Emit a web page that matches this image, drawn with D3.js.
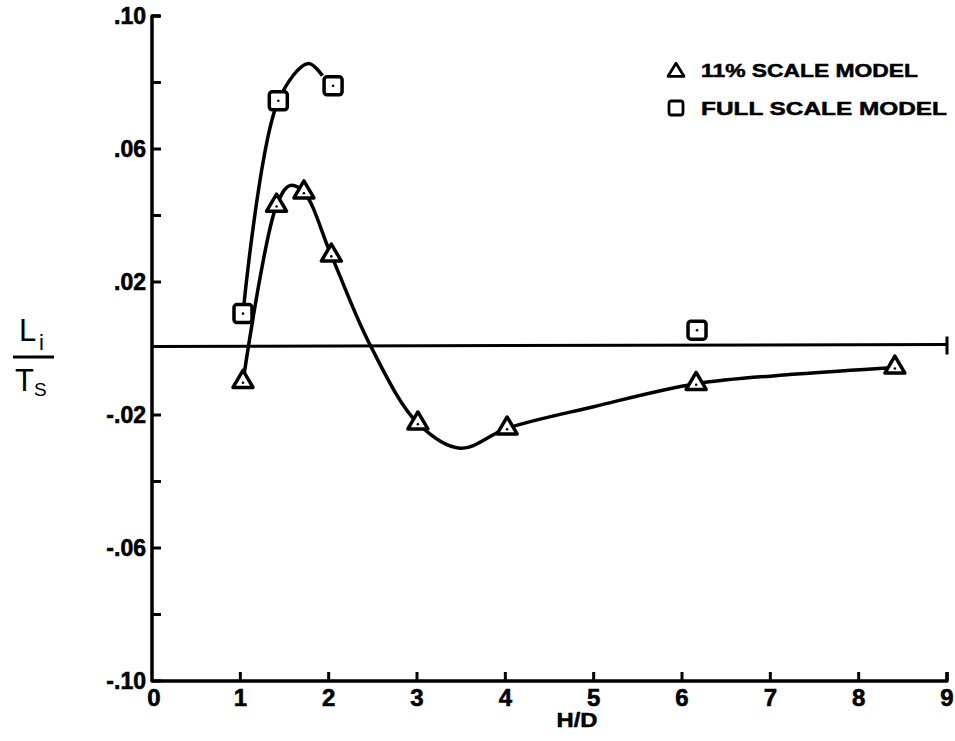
<!DOCTYPE html>
<html><head><meta charset="utf-8">
<script src="https://cdn.jsdelivr.net/npm/d3@7"></script>
<style>body{margin:0;background:#fff}</style>
</head><body>
<div id="chart"></div>
<script>
// ---- data ----
const xTicks = [0,1,2,3,4,5,6,7,8,9];
const yTicksMajor = [0.10, 0.06, 0.02, -0.02, -0.06, -0.10];
const yTicksMinor = [0.08, 0.04, -0.04, -0.08];
const yTickLabels = [".10", ".06", ".02", "-.02", "-.06", "-.10"];

// 11% scale model (triangles)
const triX = [1.03, 1.41, 1.72, 2.03, 3.01, 4.02, 6.16, 8.41];
const triY = [-0.010, 0.043, 0.047, 0.028, -0.0225, -0.024, -0.0106, -0.0057];
// faired curve through the 11% data, as drawn
const triCurveX = [1.03, 1.41, 1.56, 1.72, 2.03, 2.47, 3.01, 3.49, 4.02, 5.0, 6.16, 7.3, 8.41];
const triCurveY = [-0.010, 0.043, 0.049, 0.047, 0.028, 0.001, -0.0225, -0.0300, -0.024, -0.0175, -0.0106, -0.0077, -0.0057];

// full scale model (squares)
const sqX = [1.03, 1.43, 2.05, 6.17];
const sqY = [0.0105, 0.0745, 0.079, 0.0055];
// faired curve through the full scale data
const sqCurveX = [1.03, 1.43, 1.77, 1.93];
const sqCurveY = [0.0105, 0.0745, 0.0857, 0.082];

const legendLabels = ["11% SCALE MODEL", "FULL SCALE MODEL"];

// ---- drawing ----
const W = 955, H = 741;
const svg = d3.select("#chart").append("svg").attr("width", W).attr("height", H);
const x = d3.scaleLinear().domain([0, 9]).range([152, 947]);
const y = d3.scaleLinear().domain([-0.10, 0.10]).range([681, 16]);
const font = "'Liberation Sans', Arial, sans-serif";
const SW = 3.5;

// axes lines
svg.append("path")
  .attr("d", `M${x(0)+8},${y(0.10)} L${x(0)},${y(0.10)} L${x(0)},${y(-0.10)} L${x(9)},${y(-0.10)} L${x(9)},${y(-0.10)-9}`)
  .attr("fill","none").attr("stroke","#000").attr("stroke-width",SW).attr("stroke-linejoin","round");

// y ticks
svg.selectAll(".ytk").data(yTicksMajor.concat(yTicksMinor)).enter().append("line")
  .attr("x1", x(0)).attr("x2", x(0)+9)
  .attr("y1", d=>y(d)).attr("y2", d=>y(d))
  .attr("stroke","#000").attr("stroke-width",3);
svg.selectAll(".ylb").data(yTicksMajor).enter().append("text")
  .attr("x", x(0)-6).attr("y", d=>y(d)+8)
  .attr("text-anchor","end")
  .attr("font-family", font).attr("font-weight","bold").attr("font-size",23)
  .attr("stroke","#000").attr("stroke-width",0.6)
  .text((d,i)=>yTickLabels[i]);

// x ticks
svg.selectAll(".xtk").data(xTicks.slice(1)).enter().append("line")
  .attr("x1", d=>x(d)).attr("x2", d=>x(d))
  .attr("y1", y(-0.10)).attr("y2", y(-0.10)-9)
  .attr("stroke","#000").attr("stroke-width",3);
svg.selectAll(".xlb").data(xTicks).enter().append("text")
  .attr("x", d=>x(d)+ (d===0?2:0)).attr("y", y(-0.10)+25)
  .attr("text-anchor","middle")
  .attr("font-family", font).attr("font-weight","bold").attr("font-size",24)
  .attr("stroke","#000").attr("stroke-width",0.6)
  .text(d=>d);
svg.append("text").attr("x", 577).attr("y", 727).attr("text-anchor","middle")
  .attr("font-family", font).attr("font-weight","bold").attr("font-size",21)
  .attr("stroke","#000").attr("stroke-width",0.5)
  .attr("textLength",41).attr("lengthAdjust","spacingAndGlyphs")
  .text("H/D");

// y label L_i / T_s
const yl = svg.append("g").attr("font-family", font);
yl.append("text").attr("x",19).attr("y",341).attr("font-size",31).text("L");
yl.append("text").attr("x",39).attr("y",350).attr("font-size",22).text("i");
yl.append("line").attr("x1",13).attr("x2",54).attr("y1",357).attr("y2",357).attr("stroke","#000").attr("stroke-width",3);
yl.append("text").attr("x",15).attr("y",391).attr("font-size",31).text("T");
yl.append("text").attr("x",34).attr("y",396).attr("font-size",19).text("S");

// zero line with end tick
svg.append("line").attr("x1",x(0)).attr("x2",x(9)).attr("y1",y(0)-2).attr("y2",y(0)-4)
  .attr("stroke","#000").attr("stroke-width",3);
svg.append("line").attr("x1",x(9)).attr("x2",x(9)).attr("y1",y(0)-12).attr("y2",y(0)+6)
  .attr("stroke","#000").attr("stroke-width",3);

// curves
const line = d3.line().x(d=>x(d[0])).y(d=>y(d[1])).curve(d3.curveCatmullRom.alpha(0.5));
svg.append("path").datum(triCurveX.map((v,i)=>[v,triCurveY[i]]))
  .attr("d", line).attr("fill","none").attr("stroke","#000").attr("stroke-width",SW);
svg.append("path").datum(sqCurveX.map((v,i)=>[v,sqCurveY[i]]))
  .attr("d", line).attr("fill","none").attr("stroke","#000").attr("stroke-width",SW);

// markers
function tri(cx, cy, w, h){
  return `M${cx},${cy-h*2/3} L${cx+w/2},${cy+h/3} L${cx-w/2},${cy+h/3} Z`;
}
const triData = triX.map((v,i)=>[v,triY[i]]);
svg.selectAll(".tri").data(triData).enter().append("path")
  .attr("d", d=>tri(x(d[0]), y(d[1]), 20, 17))
  .attr("fill","#fff").attr("stroke","#000").attr("stroke-width",3.5).attr("stroke-linejoin","round");
svg.selectAll(".trid").data(triData).enter().append("circle")
  .attr("cx", d=>x(d[0])).attr("cy", d=>y(d[1])+1).attr("r",1.3).attr("fill","#000");

const sqData = sqX.map((v,i)=>[v,sqY[i]]);
svg.selectAll(".sq").data(sqData).enter().append("rect")
  .attr("x", d=>x(d[0])-9).attr("y", d=>y(d[1])-9).attr("width",18).attr("height",18).attr("rx",3)
  .attr("fill","#fff").attr("stroke","#000").attr("stroke-width",3.5);
svg.selectAll(".sqd").data(sqData).enter().append("circle")
  .attr("cx", d=>x(d[0])).attr("cy", d=>y(d[1])).attr("r",1.3).attr("fill","#000");

// legend
const lg = svg.append("g");
lg.append("path").attr("d", tri(676, 72, 16, 13)).attr("fill","#fff").attr("stroke","#000").attr("stroke-width",2.8).attr("stroke-linejoin","round");
lg.append("rect").attr("x",669).attr("y",101).attr("width",14).attr("height",14).attr("rx",2.5)
  .attr("fill","#fff").attr("stroke","#000").attr("stroke-width",2.8);
lg.append("text").attr("x",701).attr("y",77).attr("font-family",font).attr("font-weight","bold").attr("font-size",18.5)
  .attr("stroke","#000").attr("stroke-width",0.5)
  .attr("textLength",217).attr("lengthAdjust","spacingAndGlyphs").text(legendLabels[0]);
lg.append("text").attr("x",701).attr("y",115).attr("font-family",font).attr("font-weight","bold").attr("font-size",18.5)
  .attr("stroke","#000").attr("stroke-width",0.5)
  .attr("textLength",246).attr("lengthAdjust","spacingAndGlyphs").text(legendLabels[1]);
</script>
</body></html>
